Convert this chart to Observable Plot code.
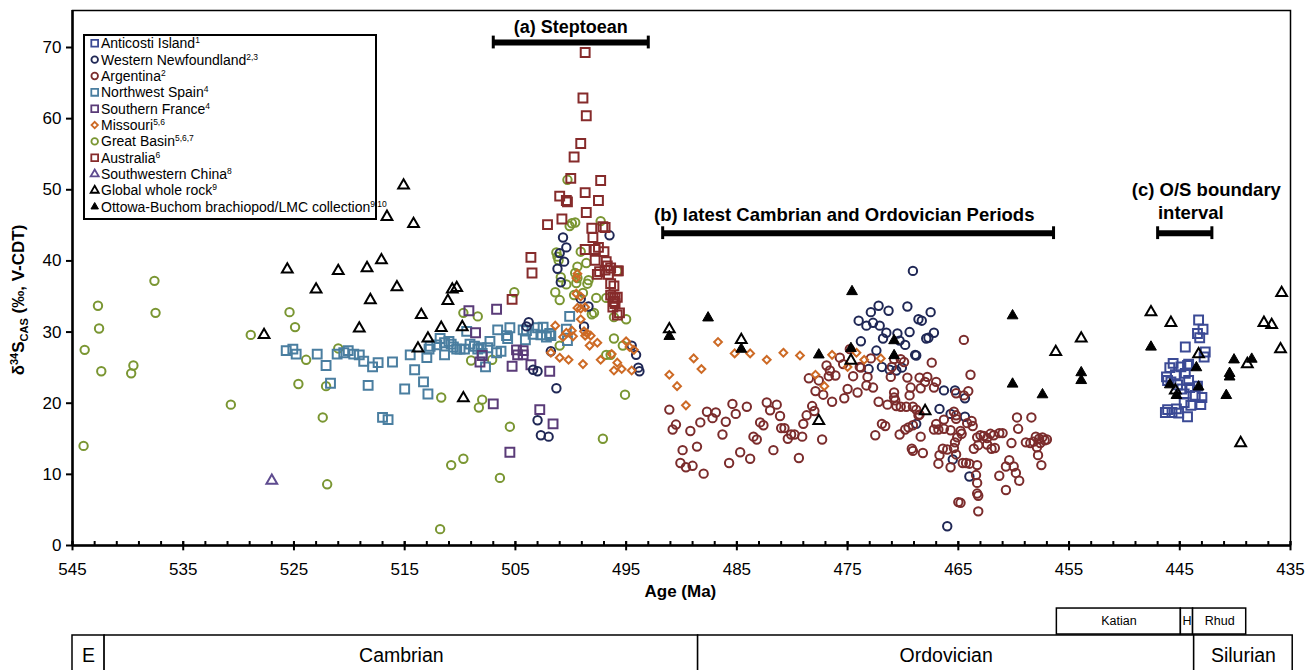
<!DOCTYPE html>
<html>
<head>
<meta charset="utf-8">
<script src="https://cdn.jsdelivr.net/npm/d3@7"></script>
<script src="https://cdn.jsdelivr.net/npm/@observablehq/plot@0.6"></script>
<style>
  html, body { margin: 0; padding: 0; background: #fff; }
  #chart { width: 1311px; height: 670px; overflow: hidden; }
</style>
</head>
<body>
<div id="chart"></div>
<script>
// ---------------- DATA: [age (Ma), δ34S CAS (‰)] ----------------
const anticosti = [[443.3,31.7],[442.9,30.4],[443.4,29.8],[443.2,29.2],[444.5,27.9],[442.7,27.2],[442.8,26.5],[445.6,25.6],[445.9,25.0],[444.9,25.1],[444.3,25.3],[444.2,25.5],[445.4,24.0],[444.5,24.2],[446.2,23.7],[446.1,23.2],[445.8,23.0],[445.2,22.6],[444.2,23.2],[444.8,22.0],[444.1,22.2],[443.4,22.4],[444.6,21.3],[443.6,21.1],[443.0,20.8],[444.6,20.1],[444.0,19.7],[443.1,19.8],[445.3,19.2],[446.1,19.1],[445.7,18.7],[445.1,18.6],[444.3,18.1],[446.3,18.7]];

const westernNewfoundland = [[496.5,43.6],[500.7,43.3],[500.4,41.9],[501.0,41.1],[500.6,39.9],[501.2,38.9],[500.9,37.0],[499.1,34.7],[498.4,33.6],[498.8,30.8],[503.8,31.4],[504.0,30.8],[501.8,27.3],[494.5,28.1],[494.1,26.8],[493.9,25.0],[493.8,24.5],[503.4,24.7],[503.0,24.5],[501.3,22.1],[503.0,17.6],[502.7,15.5],[502.0,15.3],
[469.1,38.6],[472.2,33.7],[472.9,32.8],[471.3,33.0],[469.6,33.6],[467.5,32.8],[474.0,31.6],[473.3,30.9],[472.7,31.3],[472.1,30.9],[468.6,31.8],[468.3,31.6],[471.5,29.9],[470.5,29.8],[469.4,30.0],[467.2,29.9],[471.8,29.1],[470.3,28.8],[469.8,28.2],[467.9,29.1],[467.7,29.2],[473.8,28.7],[472.4,27.4],[468.9,26.8],[468.8,26.7],[473.1,24.8],[471.9,25.1],[471.2,24.7],[470.6,24.6],[470.1,25.0],[466.3,21.8],[465.3,21.8],[466.7,19.2],[465.7,18.5],[468.8,17.1],[465.5,12.1],[466.0,2.7],[464.4,20.7],[464.4,18.1],[464.0,9.7]];

const argentina = [[491.1,19.1],[490.5,17.0],[490.8,16.3],[489.2,16.1],[489.9,13.4],[490.1,11.6],[489.6,11.0],[489.0,11.2],[488.6,13.9],[488.0,10.1],[488.3,17.3],[487.7,18.8],[487.2,17.9],[486.9,18.7],[486.3,15.6],[486.0,17.4],[485.7,11.6],[485.4,19.9],[485.1,18.5],[484.7,13.1],[484.1,19.5],[483.8,12.2],[483.5,15.3],[483.2,14.9],[482.9,17.3],[482.6,16.9],[482.3,20.1],[482.0,19.0],[481.4,19.8],[481.1,18.2],[481.7,13.4],[481.0,16.5],[480.7,16.5],[480.4,15.0],[480.1,15.6],[479.8,15.6],[479.4,12.3],[479.1,15.3],[479.0,17.1],[478.7,18.3],[478.2,19.6],[478.0,18.9],[477.3,14.9],[478.5,23.5],[477.6,23.2],[477.9,21.7],[477.2,21.2],[476.9,25.3],[476.6,24.6],[476.7,23.8],[476.1,23.9],[476.4,20.2],[475.7,26.4],[475.4,25.5],[475.3,20.7],[475.0,22.0],[474.5,23.8],[474.1,21.5],[473.9,25.1],[474.8,27.6],
[472.9,26.3],[473.8,25.0],[473.3,22.5],[472.7,22.2],[473.2,23.7],[472.2,20.2],[471.4,19.8],[470.8,21.5],[470.8,20.8],[470.7,20.4],[470.6,19.6],[470.2,19.5],[469.7,19.5],[469.4,21.1],[469.3,22.2],[469.6,23.6],[468.5,23.6],[467.8,23.7],[468.0,23.0],[468.4,22.1],[467.2,22.2],[467.0,23.0],[467.4,25.7],[469.1,19.5],[468.8,19.1],[468.5,18.4],[468.6,18.3],[470.8,26.2],[470.2,26.2],[469.9,25.8],[471.0,25.1],[471.1,23.7],[471.9,17.1],[471.6,16.8],[472.5,15.5],[470.3,15.6],[469.8,16.3],[469.5,16.6],[469.1,16.9],[468.4,15.3],[469.2,13.6],[469.1,13.3],[468.2,13.0],[467.0,17.1],[466.8,16.3],[467.2,16.3],[466.3,17.7],[466.8,11.5],[466.7,12.7],[466.0,13.5],[465.3,14.5],[465.4,13.7],[465.1,15.2],[464.8,16.1],[465.0,6.1],
[465.4,18.8],[465.2,18.3],[465.2,17.8],[465.2,21.4],[466.3,16.4],[465.7,16.2],[466.4,13.6],[465.2,12.8],[465.7,11.0],
[464.5,28.9],[463.9,24.0],[464.1,21.7],[464.5,21.1],[464.2,17.2],[463.8,17.5],[463.7,16.8],[464.7,15.7],[464.6,11.6],[464.3,11.6],[464.0,11.5],[463.3,11.3],[463.6,13.6],[463.3,15.2],[463.0,15.5],[462.7,15.4],[462.4,15.1],[462.1,15.7],[461.8,15.5],[461.3,15.8],[461.0,15.8],[462.4,14.2],[462.0,13.6],[461.7,13.7],[463.2,14.1],[463.4,9.9],[463.3,8.8],[463.3,7.3],[463.2,7.0],[464.8,6.0],[463.2,4.8],[460.2,14.4],[460.4,12.0],[460.7,11.1],[460.0,11.1],[459.8,10.2],[459.5,9.1],[461.3,9.8],[460.7,7.8],[459.7,18.0],[458.4,18.0],[459.6,16.4],[458.9,14.5],[458.5,14.4],[458.2,14.6],[458.0,15.3],[457.7,15.0],[457.4,15.2],[457.0,14.9],[457.2,14.8],[457.6,14.4],[457.9,13.8],[457.8,12.7],[457.5,11.3]];

const northwestSpain = [[525.7,27.4],[525.1,27.6],[524.8,26.9],[522.9,26.9],[522.1,25.3],[521.7,22.8],[521.1,26.9],[520.5,27.1],[520.1,27.4],[519.6,26.9],[519.1,26.8],[518.7,25.9],[518.3,22.5],[517.9,25.1],[517.4,25.7],[517.0,18.0],[516.5,17.7],[516.1,25.8],[515.0,22.0],[514.5,26.8],[514.1,24.7],[513.3,23.0],[512.9,21.3],[513.0,26.4],[512.8,27.6],[512.7,28.0],[512.1,28.2],[511.8,29.1],[511.4,28.5],[511.0,28.7],[510.8,28.3],[510.6,27.9],[510.3,27.6],[510.0,27.6],[509.6,27.6],[511.4,26.8],[509.4,30.1],[509.1,28.3],[508.7,28.0],[508.4,27.6],[508.1,27.8],[507.7,25.1],[507.5,27.8],[507.3,28.7],[506.6,30.3],[506.7,27.1],[506.3,27.3],[508.0,27.0],
[500.1,32.2],[505.5,30.6],[505.8,29.5],[505.7,29.1],[504.3,30.3],[504.0,30.2],[503.4,29.7],[503.0,30.6],[502.5,30.7],[502.7,29.6],[502.2,29.3],[501.8,29.5],[501.9,29.8],[504.1,28.9],[500.4,30.4],[500.3,28.8]];

const southernFrance = [[509.2,33.0],[508.6,29.9],[508.0,26.7],[508.2,25.8],[507.0,19.9],[506.7,33.2],[504.9,27.5],[504.3,27.4],[504.8,26.8],[504.3,26.8],[505.3,25.2],[503.6,25.4],[501.9,24.5],[502.8,19.1],[501.6,17.1],[505.5,13.1]];

const missouri = [[499.4,38.2],[499.5,37.6],[499.5,35.4],[499.1,35.0],[499.4,33.4],[499.1,33.3],[498.7,33.5],[499.1,31.8],[501.4,30.9],[500.4,29.9],[499.9,30.2],[499.8,29.4],[500.7,29.3],[498.8,30.1],[498.5,29.8],[498.2,29.5],[498.7,29.5],[497.6,28.5],[498.3,28.1],[501.8,27.1],[501.0,26.4],[500.2,26.1],[498.9,25.5],[497.3,26.1],[496.3,26.9],[495.8,25.7],[496.1,24.6],[495.4,24.8],[494.5,24.6],[495.0,28.7],[494.7,27.9],[494.3,27.5],
[491.1,24.0],[490.4,22.4],[489.6,19.7],[488.9,26.3],[488.2,24.8],[486.7,28.6],[485.2,27.0],[483.8,27.0],[482.3,26.1],[480.8,27.1],[479.3,26.7],[477.9,24.0],[477.1,22.4],[476.4,26.8],[475.0,25.1],[474.2,27.1],[472.0,26.3],[473.5,26.1]];

const greatBasin = [[543.9,27.5],[542.7,33.7],[542.6,30.5],[542.4,24.5],[544.0,14.0],[537.6,37.2],[537.5,32.7],[539.5,25.3],[539.7,24.2],[530.7,19.8],[528.9,29.6],[525.4,32.8],[524.9,30.7],[524.6,22.7],[523.9,26.1],[522.1,22.4],[522.4,18.0],[522.0,8.6],[521.0,27.7],[511.7,20.8],[510.8,11.3],[509.7,12.2],[511.8,2.3],[509.7,32.7],[508.4,32.2],[509.0,26.0],[507.1,26.1],[508.0,20.5],[508.3,19.4],[506.4,9.5],
[500.3,51.4],[500.1,44.9],[499.9,45.3],[499.6,45.4],[497.3,45.6],[501.3,41.2],[501.2,40.6],[501.1,40.1],[499.1,41.3],[498.6,39.7],[505.1,35.6],[501.4,35.6],[501.0,34.5],[500.9,37.7],[500.4,36.7],[499.4,39.2],[499.6,38.3],[499.4,37.6],[499.5,36.9],[499.7,35.2],[498.4,37.3],[498.5,36.8],[497.7,34.8],[496.8,34.8],[497.9,32.7],[498.1,32.5],[498.9,35.5],[496.1,32.1],[495.0,31.8],[496.1,29.1],[495.3,28.1],[495.1,21.2],[501.0,28.1],[496.8,26.8],[496.4,26.8],[505.5,16.7],[497.1,15.0],[495.8,38.6]];

const australia = [[498.7,69.3],[498.9,62.9],[498.6,60.4],[499.1,56.5],[499.7,54.6],[500.0,51.6],[497.3,51.3],[501.0,49.1],[500.4,48.5],[500.3,48.3],[498.7,49.6],[497.5,48.5],[498.6,46.8],[502.1,45.1],[500.8,45.9],[498.1,44.6],[497.1,44.8],[496.9,44.7],[498.0,43.3],[503.6,40.5],[503.5,38.3],[498.7,41.6],[497.8,41.6],[497.5,41.9],[497.0,41.3],[497.8,40.1],[496.8,39.9],[496.7,39.3],[496.9,38.7],[497.4,38.5],[497.6,38.1],[496.4,39.0],[495.8,38.6],[495.7,38.6],[496.6,38.1],[496.4,36.8],[496.1,36.5],[496.4,35.2],[496.2,34.9],[496.0,34.8],[495.8,34.9],[496.1,34.3],[496.0,34.0],[496.2,33.5],[495.6,32.7],[495.8,32.4],[505.3,34.6]];

const southwesternChina = [[527.0,9.1]];

const globalWholeRock = [[527.7,29.6],[525.6,38.8],[523.0,36.0],[521.0,38.6],[519.1,30.5],[518.4,39.0],[518.1,34.5],[517.1,40.1],[516.6,46.2],[515.7,36.3],[515.1,50.6],[514.2,45.2],[513.8,27.7],[513.5,32.4],[512.9,29.1],[511.7,30.6],[511.1,34.4],[510.7,36.0],[510.3,36.2],[509.8,30.7],[509.7,20.7],
[491.1,30.4],[484.6,28.9],[477.6,17.5],[474.7,26.0],[468.0,18.9],[456.2,27.2],[453.9,29.1],[447.6,32.8],[445.8,31.3],[443.3,26.9],[445.4,21.8],[438.9,25.5],[437.4,31.3],[436.7,31.0],[435.8,35.5],[435.9,27.6],[439.5,14.4]];

const ottowaBuchom = [[491.1,29.4],[487.6,32.0],[484.6,27.6],[477.6,26.8],[474.7,27.7],[474.6,35.7],[470.8,28.8],[470.8,26.7],[460.1,32.3],[460.1,22.7],[457.4,21.2],[453.9,24.3],[453.9,23.2],[447.6,27.9],[445.9,22.6],[445.3,21.1],[443.5,25.0],[443.3,22.3],[440.8,21.1],[440.5,24.2],[440.5,23.7],[440.1,26.1],[438.5,26.2]];

// legend
const legendNames = ["Anticosti Island","Western Newfoundland","Argentina","Northwest Spain","Southern France","Missouri","Great Basin","Australia","Southwestern China","Global whole rock","Ottowa-Buchom brachiopod/LMC collection"];
const legendRefs = ["1","2,3","2","4","4","5,6","5,6,7","6","8","9","9,10"];

// axis ticks
const ageTicks = d3.range(545, 434, -10);
const ageMinorTicks = d3.range(545, 434, -2);
const valueTicks = d3.range(0, 71, 10);

// annotation intervals
const intervalLabels = ["(a) Steptoean", "(b) latest Cambrian and Ordovician Periods", "(c) O/S boundary"];
const intervalStart = [507.0, 491.7, 447.0];
const intervalEnd = [493.0, 456.4, 442.1];
const intervalLevel = [70.7, 43.9, 43.9];

// time scale
const stageNames = ["Katian", "H", "Rhud"];
const stageStart = [456.1, 444.9, 443.8];
const stageEnd = [444.9, 443.8, 439.0];
const periodNames = ["E", "Cambrian", "Ordovician", "Silurian"];
const periodStart = [545.0, 542.1, 488.5, 443.7];
const periodEnd = [542.1, 488.5, 443.7, 434.8];

// ---------------- STYLE ----------------
const series = [
  {data: greatBasin, symbol: "circle", color: "#7A9632", r: 4.2},
  {data: northwestSpain, symbol: "square", color: "#4A7EA0", r: 5},
  {data: southernFrance, symbol: "square", color: "#5A3B78", r: 5},
  {data: westernNewfoundland, symbol: "circle", color: "#1F2755", r: 4.2},
  {data: argentina, symbol: "circle", color: "#7B2C2C", r: 4.2},
  {data: missouri, symbol: "diamond2", color: "#CD6A25", r: 3.5},
  {data: australia, symbol: "square", color: "#862B2B", r: 5},
  {data: anticosti, symbol: "square", color: "#3B4A95", r: 5},
  {data: southwesternChina, symbol: "triangle", color: "#5E4B8F", r: 4},
  {data: globalWholeRock, symbol: "triangle", color: "#000000", r: 4},
  {data: ottowaBuchom, symbol: "triangle", color: "#000000", r: 4, fill: "#000000"}
];
const legendStyle = [
  ["square", "#3B4A95"], ["circle", "#1F2755"], ["circle", "#7B2C2C"], ["square", "#4A7EA0"],
  ["square", "#5A3B78"], ["diamond2", "#CD6A25"], ["circle", "#7A9632"], ["square", "#862B2B"],
  ["triangle", "#5E4B8F"], ["triangle", "#000000"], ["triangleFilled", "#000000"]
];

const FONT = "'Liberation Sans', Arial, Helvetica, sans-serif";
const intervals = intervalLabels.map((l, i) => ({l, s: intervalStart[i], e: intervalEnd[i], y: intervalLevel[i]}));
const stages = stageNames.map((n, i) => ({n, s: stageStart[i], e: stageEnd[i]}));
const periods = periodNames.map((n, i) => ({n, s: periodStart[i], e: periodEnd[i]}));

const chart = Plot.plot({
  width: 1311,
  height: 670,
  marginLeft: 72,
  marginRight: 21,
  marginTop: 10,
  marginBottom: 125,
  style: {fontFamily: FONT, background: "white", color: "black"},
  x: {domain: [545, 435], axis: null},
  y: {domain: [0, 75.2], axis: null},
  marks: [
    // time scale boxes
    Plot.rect(stages, {x1: "s", x2: "e", y1: -8.86, y2: -12.51, fill: "white", stroke: "black", strokeWidth: 1.5}),
    Plot.text(stages, {x: d => (d.s + d.e) / 2, y: -10.68, text: "n", fontSize: 12.5, fill: "black"}),
    Plot.rect(periods, {x1: "s", x2: "e", y1: -12.65, y2: -18.5, fill: "white", stroke: "black", strokeWidth: 1.5}),
    Plot.text(periods, {x: d => (d.s + d.e) / 2, y: -15.46, text: "n", fontSize: 19.5, fill: "black"}),
    // frame
    Plot.frame({stroke: "black", strokeWidth: 1.5}),
    // data
    ...series.map(s => Plot.dot(s.data, {
      x: d => d[0], y: d => d[1], symbol: s.symbol, r: s.r,
      stroke: s.color, strokeWidth: s.fill ? 1 : 2, fill: s.fill ?? "none"
    })),
    // axes
    Plot.ruleY([0], {stroke: "black", strokeWidth: 2.5}),
    Plot.ruleX([545], {stroke: "black", strokeWidth: 2.5}),
    Plot.ruleX(ageMinorTicks, {y1: 0, y2: 0.56, stroke: "black", strokeWidth: 2}),
    Plot.ruleX(ageTicks, {y1: -0.75, y2: 0.56, stroke: "black", strokeWidth: 2}),
    Plot.axisX({ticks: ageTicks, tickSize: 0, tickPadding: 17, fontSize: 17, label: null, tickFormat: d => String(d)}),
    Plot.axisY({ticks: valueTicks, tickSize: 6, tickPadding: 5, fontSize: 17, label: null, strokeWidth: 2}),
    Plot.text(["Age (Ma)"], {x: 490.1, y: -6.47, text: d => d, fontSize: 17, fontWeight: "bold", fill: "black"}),
    // interval annotations
    Plot.ruleY(intervals, {y: "y", x1: "s", x2: "e", stroke: "black", strokeWidth: 6}),
    Plot.ruleX(intervals, {x: "s", y1: d => d.y - 0.9, y2: d => d.y + 0.9, stroke: "black", strokeWidth: 3}),
    Plot.ruleX(intervals, {x: "e", y1: d => d.y - 0.9, y2: d => d.y + 0.9, stroke: "black", strokeWidth: 3}),
    Plot.text([intervals[0]], {x: 500.0, y: 72.8, text: "l", fontSize: 18, fontWeight: "bold", fill: "black"}),
    Plot.text([intervals[1]], {x: 475.3, y: 46.4, text: "l", fontSize: 18.5, fontWeight: "bold", fill: "black"}),
    Plot.text([intervals[2]], {x: 442.6, y: 49.9, text: "l", fontSize: 18.5, fontWeight: "bold", fill: "black"}),
    Plot.text(["interval"], {x: 444.0, y: 46.7, text: d => d, fontSize: 18.5, fontWeight: "bold", fill: "black"})
  ]
});
document.getElementById("chart").append(chart);

// ---------------- legend & y label ----------------
const svg = d3.select(chart);
const lg = svg.append("g").attr("font-family", FONT).attr("text-anchor", "start");
lg.append("rect").attr("x", 84).attr("y", 35).attr("width", 292).attr("height", 184)
  .attr("fill", "white").attr("stroke", "black").attr("stroke-width", 2);
const symMap = {
  square: [d3.symbolSquare, 46], circle: [d3.symbolCircle, 34], diamond2: [d3.symbolDiamond2, 26],
  triangle: [d3.symbolTriangle, 28], triangleFilled: [d3.symbolTriangle, 24]
};
legendNames.forEach((name, i) => {
  const cy = 43.3 + i * 16.35;
  const [kind, color] = legendStyle[i];
  const [type, size] = symMap[kind];
  lg.append("path").attr("d", d3.symbol(type, size)())
    .attr("transform", `translate(94.7,${cy})`)
    .attr("fill", kind === "triangleFilled" ? color : "none")
    .attr("stroke", color).attr("stroke-width", kind === "triangleFilled" ? 1 : 1.8);
  const t = lg.append("text").attr("x", 101).attr("y", cy + 5).attr("font-size", 14)
    .attr("fill", "black").attr("text-anchor", "start");
  t.append("tspan").text(name);
  t.append("tspan").attr("dy", -5).attr("font-size", 8.5).text(legendRefs[i]);
});

const yl = svg.append("text").attr("transform", "translate(24,300) rotate(-90)")
  .attr("text-anchor", "middle").attr("font-family", FONT).attr("font-weight", "bold")
  .attr("font-size", 17).attr("fill", "black");
yl.append("tspan").text("δ");
yl.append("tspan").attr("dy", -6).attr("font-size", 11).text("34");
yl.append("tspan").attr("dy", 6).text("S");
yl.append("tspan").attr("dy", 4).attr("font-size", 11).text("CAS");
yl.append("tspan").attr("dy", -4).text(" (‰, V-CDT)");
</script>
</body>
</html>
